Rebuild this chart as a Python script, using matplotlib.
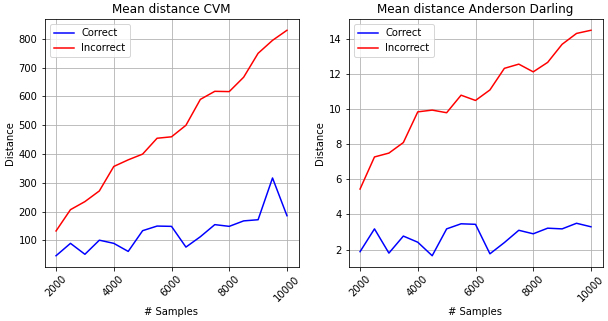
import matplotlib
matplotlib.use("Agg")
import matplotlib.pyplot as plt

samples = [2000, 2500, 3000, 3500, 4000, 4500, 5000, 5500, 6000,
           6500, 7000, 7500, 8000, 8500, 9000, 9500, 10000]

cvm_correct = [47, 90, 52, 101, 90, 62, 134, 150, 149,
               77, 113, 155, 149, 168, 172, 317, 186]
cvm_incorrect = [133, 207, 235, 272, 357, 380, 400, 455, 460,
                 500, 590, 618, 617, 667, 750, 795, 830]

ad_correct = [1.88, 3.18, 1.8, 2.77, 2.42, 1.65, 3.18, 3.47, 3.44,
              1.76, 2.4, 3.1, 2.9, 3.22, 3.18, 3.5, 3.3]
ad_incorrect = [5.45, 7.28, 7.5, 8.1, 9.85, 9.95, 9.8, 10.8, 10.5,
                11.1, 12.33, 12.57, 12.13, 12.67, 13.7, 14.32, 14.5]

fig = plt.figure(figsize=(608 / 72, 321 / 72), dpi=72)
W, H = 608, 321
ax1 = fig.add_axes([44.5 / W, 1 - 267 / H, 254 / W, 248 / H])
ax2 = fig.add_axes([348.5 / W, 1 - 267 / H, 254 / W, 248 / H])

panels = [
    (ax1, cvm_correct, cvm_incorrect, "Mean distance CVM"),
    (ax2, ad_correct, ad_incorrect, "Mean distance Anderson Darling"),
]
for ax, corr, inc, title in panels:
    ax.plot(samples, corr, color="blue", label="Correct")
    ax.plot(samples, inc, color="red", label="Incorrect")
    ax.set_title(title)
    ax.set_xlabel("# Samples")
    ax.set_ylabel("Distance")
    ax.grid(True)
    ax.set_xticks([2000, 4000, 6000, 8000, 10000])
    ax.tick_params(axis="x", labelrotation=45)
    ax.legend(loc="upper left")

fig.savefig("out.png", dpi=72)
